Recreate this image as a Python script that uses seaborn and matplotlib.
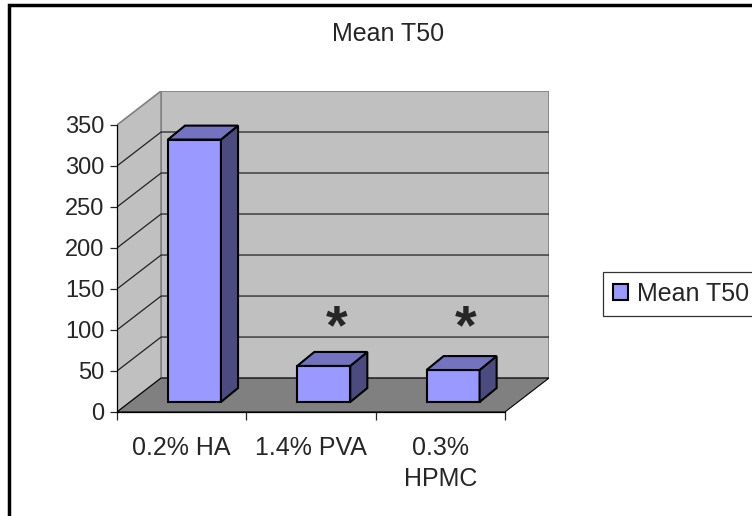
import numpy as np
import pandas as pd
import seaborn as sns
from matplotlib import pyplot as plt
from matplotlib.patches import Polygon, Rectangle

# dane z wykresu
categories = ['0.2% HA', '1.4% PVA', '0.3%\nHPMC']
mean_t50 = [320, 44, 39]
stars = ['', '*', '*']
y_ticks = [0, 50, 100, 150, 200, 250, 300, 350]
series_name = 'Mean T50'

df = pd.DataFrame({'cat': categories, 'val': mean_t50})

sns.set_style('white')
plt.rcParams['font.family'] = ['Liberation Sans', 'DejaVu Sans']

fig = plt.figure(figsize=(7.52, 5.16), dpi=100)
ax = fig.add_axes([117 / 752, 1 - 412 / 516, (549 - 117) / 752, (412 - 91) / 516])

# glebokosc "3D" w jednostkach danych
DX, DY = 0.341, 41.4          # cala glebokosc podlogi
FDX, FDY = 0.099, 12.2        # przesuniecie przodu slupka
BDX, BDY = 0.132, 17.0        # glebokosc slupka
W = 0.41
ymax = y_ticks[-1]
x0, x1 = -0.5, len(categories) - 0.5

# sciany i podloga
ax.add_patch(Polygon([(x0 + DX, DY), (x1 + DX, DY), (x1 + DX, ymax + DY), (x0 + DX, ymax + DY)],
                     closed=True, fc='#c0c0c0', ec='#808080', lw=1.2, zorder=0))
ax.add_patch(Polygon([(x0, 0), (x0 + DX, DY), (x0 + DX, ymax + DY), (x0, ymax)],
                     closed=True, fc='#c0c0c0', ec='#808080', lw=1.2, zorder=0))
ax.add_patch(Polygon([(x0, 0), (x1, 0), (x1 + DX, DY), (x0 + DX, DY)],
                     closed=True, fc='#808080', ec='black', lw=0.8, zorder=0.5))
for v in y_ticks[1:-1]:
    ax.plot([x0, x0 + DX, x1 + DX], [v, v + DY, v + DY], color='#222222', lw=0.9, zorder=1)

sns.barplot(data=df, x='cat', y='val', color='#9999ff', edgecolor='black', linewidth=1.5,
            width=W, saturation=1, label=series_name, ax=ax, zorder=3)

for i, p in enumerate(ax.patches[-len(categories):]):
    p.set_x(p.get_x() + FDX)
    p.set_y(p.get_y() + FDY)
    p.set_zorder(3)
    bx, by = p.get_x(), p.get_y()
    h = p.get_height()
    side = [(bx + W, by), (bx + W + BDX, by + BDY), (bx + W + BDX, by + h + BDY), (bx + W, by + h)]
    top = [(bx, by + h), (bx + BDX, by + h + BDY), (bx + W + BDX, by + h + BDY), (bx + W, by + h)]
    ax.add_patch(Polygon(side, closed=True, fc='#4b4b80', ec='black', lw=1.5, zorder=3))
    ax.add_patch(Polygon(top, closed=True, fc='#7373bf', ec='black', lw=1.5, zorder=3))
    if stars[i]:
        ax.text(i + 0.2, 84, stars[i], ha='center', va='baseline', fontsize=40,
                fontweight='bold', zorder=4)

ax.set_xlim(x0, x1 + DX)
ax.set_ylim(0, ymax + DY)
ax.set_facecolor('none')
ax.set_xlabel('')
ax.set_ylabel('')

for s in ['top', 'right']:
    ax.spines[s].set_visible(False)
ax.spines['left'].set_bounds(0, ymax)
ax.spines['bottom'].set_bounds(x0, x1)
ax.spines['left'].set_color('black')
ax.spines['bottom'].set_color('black')
ax.spines['left'].set_linewidth(0.9)
ax.spines['bottom'].set_linewidth(0.9)

ax.set_yticks(y_ticks)
ax.tick_params(axis='y', left=True, direction='out', length=5, width=0.9, labelsize=17, pad=4)
ax.set_xticks(range(len(categories)))
ax.set_xticklabels(categories, fontsize=18, linespacing=1.4)
ax.tick_params(axis='x', which='major', length=0, pad=17)
ax.set_xticks(np.arange(x0, x1 + 0.01, 1.0), minor=True)
ax.tick_params(axis='x', which='minor', bottom=True, direction='out', length=6, width=0.9)

leg = ax.legend(loc='center left', bbox_to_anchor=(603 / 752, 1 - 294 / 516),
                bbox_transform=fig.transFigure, fontsize=18, frameon=True, fancybox=False,
                handlelength=0.6, handleheight=0.6, handletextpad=0.35, borderpad=0.4,
                borderaxespad=0)
leg.get_frame().set_edgecolor('black')
leg.get_frame().set_linewidth(0.9)

fig.text(388 / 752, 1 - 34 / 516, 'Mean T50', ha='center', va='center', fontsize=18)

# ramka wykresu
fig.patches.append(Rectangle((9 / 752, -0.1), 1.2, 1 - 5 / 516 + 0.1, transform=fig.transFigure,
                             fill=False, ec='black', lw=2.5, zorder=10))

fig.savefig('out.png', dpi=100)
